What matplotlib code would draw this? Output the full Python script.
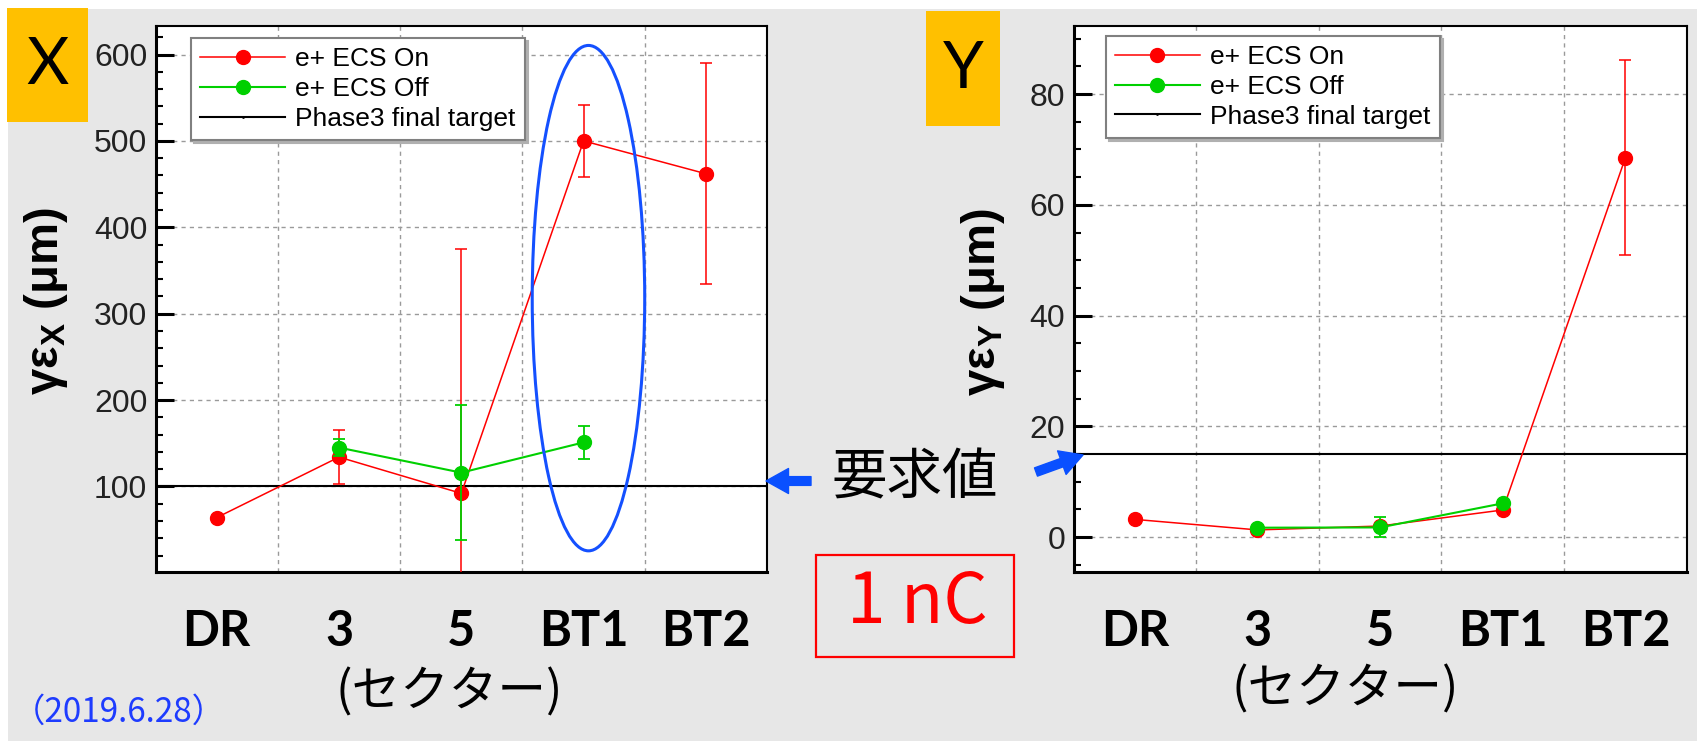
import numpy as np
import matplotlib.pyplot as plt
from matplotlib.patches import Ellipse, Rectangle
from matplotlib.ticker import MultipleLocator

sectors = ['DR', '3', '5', 'BT1', 'BT2']

# horizontal emittance gamma*eps_x (um)
ex_on = [64, 134, 92, 500, 462]
ex_on_err = [0, 31, 283, 42, 128]
ex_off = [np.nan, 145, 116, 151, np.nan]
ex_off_err = [0, 10, 78, 19, 0]
ex_target = 100

# vertical emittance gamma*eps_y (um)
ey_on = [3.2, 1.3, 2.0, 4.9, 68.5]
ey_on_err = [0, 0, 0, 0, 17.6]
ey_off = [np.nan, 1.7, 1.75, 6.1, np.nan]
ey_off_err = [0, 0, 1.8, 0, 0]
ey_target = 15

W, H = 1697, 741
RED = '#ff0000'
GREEN = '#00d000'
BLUE = '#1450ff'

plt.rcParams['font.family'] = ['Liberation Sans', 'DejaVu Sans']
fig = plt.figure(figsize=(W / 100, H / 100), dpi=100, facecolor='white')
fig.add_artist(Rectangle((8 / W, 0), 1, 1 - 9 / H, transform=fig.transFigure,
                         facecolor='#e7e7e7', edgecolor='none', zorder=-10))


def px_rect(x0, y0, x1, y1):
    return [x0 / W, 1 - y1 / H, (x1 - x0) / W, (y1 - y0) / H]


def panel(rect, on, on_err, off, off_err, target, ylim, major, minor, leg_anchor):
    ax = fig.add_axes(rect)
    ax.set_facecolor('white')
    xs = np.arange(len(sectors))
    ax.errorbar(xs, on, yerr=on_err, fmt='none', ecolor=RED, elinewidth=1.1,
                capsize=4, capthick=1.1, zorder=3)
    ax.plot(xs, on, '-o', color=RED, lw=1.1, ms=10, label='e+ ECS On', zorder=3)
    ax.errorbar(xs, off, yerr=off_err, fmt='none', ecolor=GREEN, elinewidth=1.3,
                capsize=4, capthick=1.3, zorder=4)
    ax.plot(xs, off, '-o', color=GREEN, lw=1.5, ms=10, label='e+ ECS Off', zorder=4)
    ax.axhline(target, color='black', lw=1.5, marker='.', ms=2,
               label='Phase3 final target', zorder=2)

    ax.set_xlim(-0.5, 4.5)
    ax.set_ylim(*ylim)
    ax.yaxis.set_major_locator(MultipleLocator(major))
    ax.yaxis.set_minor_locator(MultipleLocator(minor))
    ax.set_xticks(xs, sectors)
    ax.set_xticks(xs[:-1] + 0.5, minor=True)
    ax.grid(axis='y', which='major', color='#9a9a9a', ls=(0, (3, 3)), lw=1)
    ax.grid(axis='x', which='minor', color='#9a9a9a', ls=(0, (3, 3)), lw=1)
    ax.tick_params(axis='x', which='both', length=0, pad=27)
    ax.tick_params(axis='y', which='major', direction='in', length=13, width=2.2,
                   labelsize=23, labelcolor='#222222', pad=6)
    ax.tick_params(axis='y', which='minor', direction='in', length=5, width=1.5)
    for lbl in ax.get_xticklabels():
        lbl.set_fontfamily('Lato')
        lbl.set_fontweight('bold')
        lbl.set_fontsize(35)
    for side in ['left', 'bottom']:
        ax.spines[side].set_linewidth(2.2)
    for side in ['top', 'right']:
        ax.spines[side].set_linewidth(1.5)

    leg = ax.legend(loc='upper left', bbox_to_anchor=leg_anchor, borderaxespad=0,
                    fontsize=19, handlelength=3.2, labelspacing=0.22, borderpad=0.35,
                    handletextpad=0.4, fancybox=False, framealpha=1,
                    edgecolor='#808080', shadow={'color': '#b0b0b0', 'alpha': 1})
    leg.get_frame().set_linewidth(1.5)
    return ax


axl = panel(px_rect(155.6, 26, 767, 572), ex_on, ex_on_err, ex_off, ex_off_err,
            ex_target, (1, 633), 100, 20, (0.058, 0.978))
axr = panel(px_rect(1073.5, 26, 1686.7, 572), ey_on, ey_on_err, ey_off, ey_off_err,
            ey_target, (-6.3, 92.3), 20, 5, (0.053, 0.982))

# highlight around BT1 in the X panel
axl.add_patch(Ellipse((3.04, 318), 0.92, 585, fill=False, edgecolor=BLUE, lw=2.2, zorder=6))

# y labels
bold = dict(fontsize=34, fontweight='bold', rotation=90, ha='center', va='center')
fig.text(46 / W, 1 - 301 / H, r'γε$_\mathregular{X}$ (μm)', **bold)
fig.text(983 / W, 1 - 302 / H, r'γε$_\mathregular{Y}$ (μm)', **bold)

# x labels
cjk = ['Noto Sans CJK JP', 'DejaVu Sans']
fig.text(449 / W, 1 - 693 / H, '(セクター)', fontsize=35, family=cjk, ha='center', va='center')
fig.text(1345 / W, 1 - 690 / H, '(セクター)', fontsize=35, family=cjk, ha='center', va='center')

# X / Y badges
for (x0, y0, x1, y1), letter in [((7, 8, 88, 122), 'X'), ((926, 11, 1000, 126), 'Y')]:
    fig.add_artist(Rectangle((x0 / W, 1 - y1 / H), (x1 - x0) / W, (y1 - y0) / H,
                             transform=fig.transFigure, facecolor='#ffc000',
                             edgecolor='none'))
    fig.text((x0 + x1) / 2 / W, 1 - ((y0 + y1) / 2 + 1) / H, letter, fontsize=47,
             family='Lato', ha='center', va='center')

# requirement label and arrows
fig.text(915 / W, 1 - 479 / H, '要求値', fontsize=40, family=cjk, ha='center', va='center')
arrow = dict(arrowstyle='simple,head_length=0.9,head_width=1.0,tail_width=0.35',
             color='#0a50ff', shrinkA=0, shrinkB=0, mutation_scale=18)
fig.add_artist(plt.Annotation('', xy=(766, H - 481), xytext=(811, H - 481),
                              xycoords='figure pixels', arrowprops=arrow))
fig.add_artist(plt.Annotation('', xy=(1083, H - 455), xytext=(1036, H - 472),
                              xycoords='figure pixels', arrowprops=arrow))

# 1 nC box
fig.add_artist(Rectangle((816 / W, 1 - 657 / H), 198 / W, 102 / H,
                         transform=fig.transFigure, facecolor='none',
                         edgecolor='#ff0000', lw=1.6))
fig.text(917.5 / W, 1 - 603 / H, '1 nC', fontsize=50, family=cjk, color='#ff0000',
         ha='center', va='center')

# date
fig.text(12 / W, 1 - 712 / H, '（2019.6.28）', fontsize=24, family=cjk, color='#1e3cff',
         ha='left', va='center')

fig.savefig('out.png', dpi=100, facecolor='white')
